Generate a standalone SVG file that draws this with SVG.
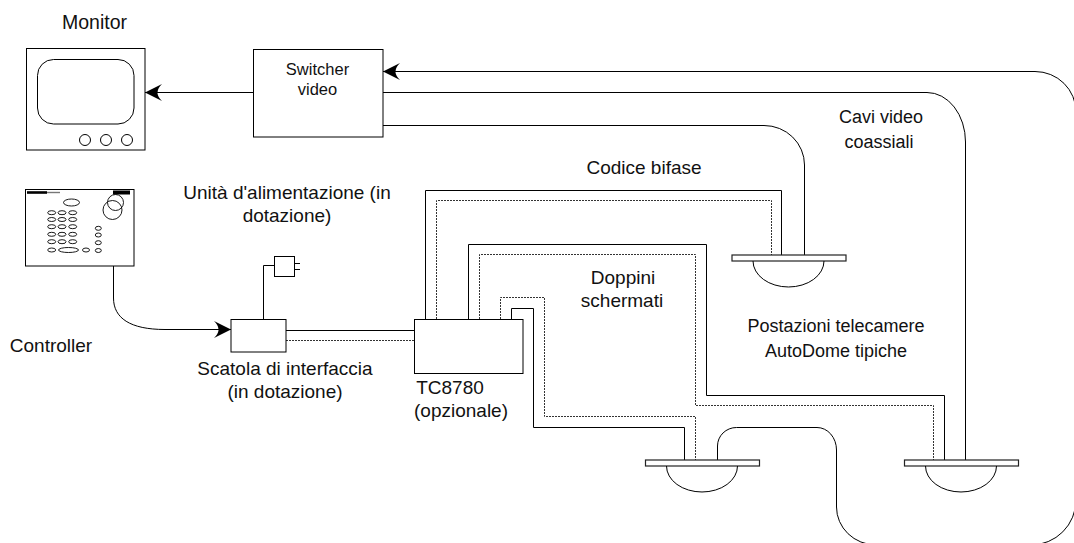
<svg xmlns="http://www.w3.org/2000/svg" width="1074" height="543" viewBox="0 0 1074 543">
  <style>
    .ln { fill: none; stroke: #000; stroke-width: 1; }
    .dot { fill: none; stroke: #333; stroke-width: 1; stroke-dasharray: 2 1; }
    .box { fill: #fff; stroke: #000; stroke-width: 1; }
    .plate { fill: #fff; stroke: #222; stroke-width: 1.2; }
    .key { fill: none; stroke: #000; stroke-width: 0.9; }
    .lbl { font-family: "Liberation Sans", Arial, sans-serif; fill: #111; text-anchor: middle; }
  </style>
  <defs>
    <marker id="arrow" viewBox="-18 -10 19 20" markerWidth="19" markerHeight="20" refX="0" refY="0" orient="auto" markerUnits="userSpaceOnUse">
      <path d="M0,0 L-17,-8.5 Q-8,0 -17,8.5 Z" fill="#000"/>
    </marker>
    <g id="dome">
      <rect class="plate" x="0" y="0" width="114" height="6"/>
      <path class="ln" d="M21,6 A35.5,26 0 0 0 92,6"/>
    </g>
  </defs>

  <rect width="1074" height="543" fill="#fff"/>

  <!-- cables -->
  <g id="connectors">
    <!-- monitor feed -->
    <path class="ln" d="M253,92.5 H145" marker-end="url(#arrow)"/>
    <!-- controller to interface box -->
    <path class="ln" d="M113.5,266 V298 C113.5,318 130,329.5 165,329.5 H231" marker-end="url(#arrow)"/>
    <!-- power supply lead -->
    <path class="ln" d="M263.5,319 V265.5 H274"/>
    <!-- interface box to TC8780 -->
    <path class="ln" d="M286,330.5 H414"/>
    <path class="dot" d="M286,340.5 H414"/>
    <!-- biphase pairs to dome 1 -->
    <path class="ln" d="M425.5,319 V190.5 H781.5 V255"/>
    <path class="dot" d="M436.5,319 V200.5 H771.5 V255"/>
    <!-- biphase pairs to dome 3 -->
    <path class="ln" d="M468.5,319 V244.5 H706.5 V395.5 H944.5 V460"/>
    <path class="dot" d="M479.5,319 V254.5 H695.5 V405.5 H933.5 V460"/>
    <!-- biphase pairs to dome 2 -->
    <path class="ln" d="M511.5,319 V308.5 H533.5 V427.5 H684.5 V460"/>
    <path class="dot" d="M500.5,319 V297.5 H544.5 V416.5 H695.5 V460"/>
    <!-- coaxial video cables -->
    <path class="ln" d="M717.5,460 V446 A19,18.5 0 0 1 736.5,427.5 H817 A19.5,22.5 0 0 1 836.5,450 V507 A40,38 0 0 0 876,545 H1031 A45,45 0 0 0 1076,500 V112 A41,40.5 0 0 0 1035,71.5 H383" marker-end="url(#arrow)"/>
    <path class="ln" d="M383,92.5 H927 A38.5,49.5 0 0 1 965.5,142 V460"/>
    <path class="ln" d="M383,125.5 H764 A40.5,39.5 0 0 1 804.5,165 V255"/>
  </g>

  <!-- monitor -->
  <g id="monitor">
    <rect class="box" x="26.5" y="48.5" width="118.5" height="101.5"/>
    <rect class="ln" x="37.5" y="59.5" width="96.5" height="64.5" rx="16" ry="16"/>
    <circle class="ln" cx="85" cy="140" r="5.5"/>
    <circle class="ln" cx="106" cy="140" r="5.5"/>
    <circle class="ln" cx="127" cy="140" r="5.5"/>
    <text class="lbl" x="94.5" y="29" font-size="19.5">Monitor</text>
  </g>

  <!-- video switcher -->
  <g id="switcher">
    <rect class="box" x="253.5" y="49.5" width="129.5" height="87.5"/>
    <text class="lbl" x="317.5" y="75" font-size="16.5">Switcher</text>
    <text class="lbl" x="317.5" y="95" font-size="16.5">video</text>
  </g>

  <!-- controller keyboard -->
  <g id="controller">
    <rect class="box" x="25.5" y="189.5" width="108.5" height="76.5"/>
    <rect x="27" y="191.2" width="20" height="2.6" fill="#000"/>
    <rect x="47" y="191.8" width="13" height="1.4" fill="#777"/>
    <rect x="113" y="190.5" width="17" height="4" fill="#000"/>
    <ellipse class="key" cx="71.5" cy="202.5" rx="8" ry="3.5"/>
    <ellipse class="key" cx="51.7" cy="212.7" rx="4" ry="2"/>
    <ellipse class="key" cx="62" cy="212.7" rx="4" ry="2"/>
    <ellipse class="key" cx="72.7" cy="212.7" rx="4" ry="2"/>
    <ellipse class="key" cx="51.7" cy="219.5" rx="4" ry="2"/>
    <ellipse class="key" cx="62" cy="219.5" rx="4" ry="2"/>
    <ellipse class="key" cx="72.7" cy="219.5" rx="4" ry="2"/>
    <ellipse class="key" cx="51.7" cy="226.7" rx="4" ry="2"/>
    <ellipse class="key" cx="62" cy="226.7" rx="4" ry="2"/>
    <ellipse class="key" cx="72.7" cy="226.7" rx="4" ry="2"/>
    <ellipse class="key" cx="51.7" cy="234.3" rx="4" ry="2"/>
    <ellipse class="key" cx="62" cy="234.3" rx="4" ry="2"/>
    <ellipse class="key" cx="72.7" cy="234.3" rx="4" ry="2"/>
    <ellipse class="key" cx="51.7" cy="241.7" rx="4" ry="2"/>
    <ellipse class="key" cx="62" cy="241.7" rx="4" ry="2"/>
    <ellipse class="key" cx="72.7" cy="241.7" rx="4" ry="2"/>
    <ellipse class="key" cx="51.7" cy="250" rx="4" ry="2"/>
    <ellipse class="key" cx="68.5" cy="250" rx="10" ry="2.5"/>
    <ellipse class="key" cx="86" cy="250" rx="3.5" ry="2"/>
    <ellipse class="key" cx="98.3" cy="228.3" rx="3" ry="2"/>
    <ellipse class="key" cx="98.3" cy="235" rx="3" ry="2"/>
    <ellipse class="key" cx="98.3" cy="242.7" rx="3" ry="2"/>
    <ellipse class="key" cx="98.3" cy="250.5" rx="3" ry="2"/>
    <circle class="key" cx="115.5" cy="202.5" r="8"/>
    <circle class="key" cx="112.5" cy="210" r="9.5"/>
    <text class="lbl" x="51" y="352" font-size="19">Controller</text>
  </g>

  <!-- power supply -->
  <g id="power-supply">
    <rect class="box" x="274.5" y="256.5" width="20" height="20"/>
    <path class="ln" d="M294.5,263.5 H300 M294.5,269.5 H300"/>
    <text class="lbl" x="287" y="199" font-size="19">Unità d'alimentazione (in</text>
    <text class="lbl" x="287" y="222" font-size="19">dotazione)</text>
  </g>

  <!-- interface box -->
  <g id="interface-box">
    <rect class="box" x="231" y="319.5" width="55" height="32.5"/>
    <text class="lbl" x="285" y="375" font-size="19">Scatola di interfaccia</text>
    <text class="lbl" x="285" y="398" font-size="19">(in dotazione)</text>
  </g>

  <!-- TC8780 -->
  <g id="tc8780">
    <rect class="box" x="414.5" y="319.5" width="108.5" height="54"/>
    <text class="lbl" x="450" y="394" font-size="19">TC8780</text>
    <text class="lbl" x="461" y="417" font-size="19">(opzionale)</text>
  </g>

  <!-- dome cameras -->
  <g id="dome-1"><use href="#dome" x="732" y="255"/></g>
  <g id="dome-2"><use href="#dome" x="645.5" y="460"/></g>
  <g id="dome-3"><use href="#dome" x="904.5" y="460"/></g>

  <!-- cable and site captions -->
  <g id="captions">
    <text class="lbl" x="644" y="174" font-size="19">Codice bifase</text>
    <text class="lbl" x="623" y="284" font-size="19">Doppini</text>
    <text class="lbl" x="622" y="307" font-size="19">schermati</text>
    <text class="lbl" x="836" y="332" font-size="18">Postazioni telecamere</text>
    <text class="lbl" x="836" y="357" font-size="18">AutoDome tipiche</text>
    <text class="lbl" x="881" y="123" font-size="18">Cavi video</text>
    <text class="lbl" x="879" y="148" font-size="18">coassiali</text>
  </g>
</svg>
